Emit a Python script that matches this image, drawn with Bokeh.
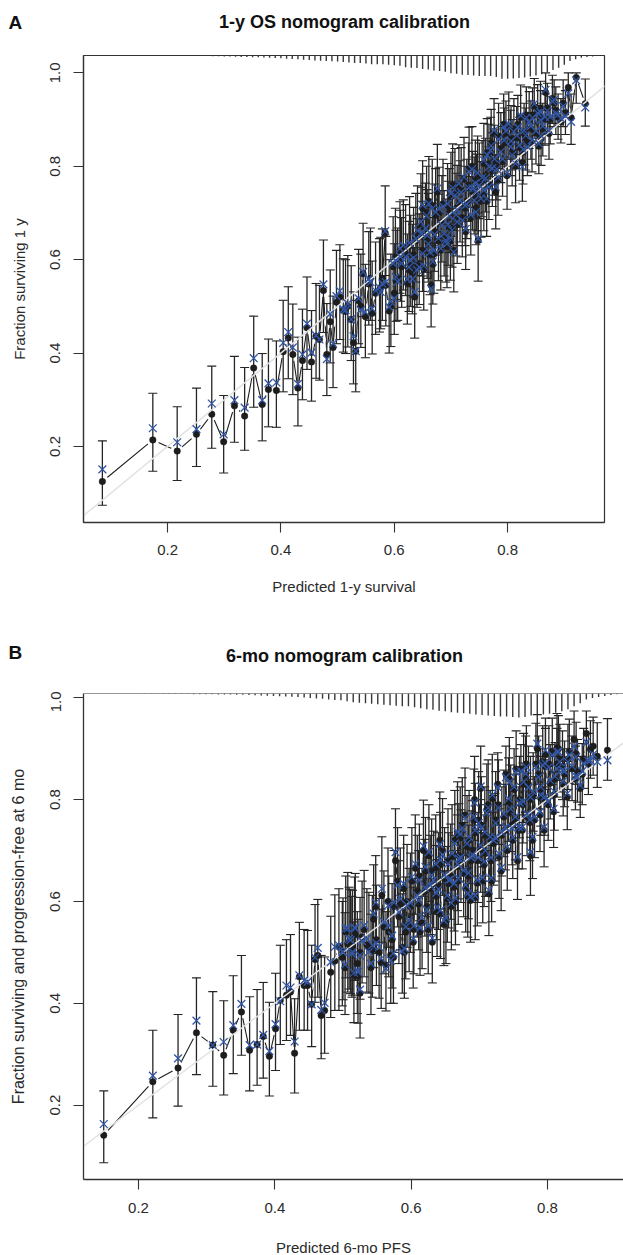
import numpy as np
from bokeh.core.properties import value
from bokeh.embed import file_html
from bokeh.layouts import column
from bokeh.models import ColumnDataSource, FixedTicker, NumeralTickFormatter, Range1d, Span
from bokeh.plotting import figure
from bokeh.resources import INLINE

# ---- Panel A: predicted, observed, CI lower, CI upper, bias-corrected ----
a_x = [.085,.174,.217,.251,.278,.299,.318,.336,.352,.367,.378,.392,.404,.413,.421,.430,.438,.446,.454,.462,
       .468,.475,.481,.487,.492,.498,.504,.510,.514,.518,.524,.528,.532,.537,
       .541,.545,.549,.555,.558,.561,.567,.576,.579,.584,.591,.594,.600,.603,.610,.611,.620,.626,.629,.632,
       .636,.638,.644,.647,.650,.650,.655,.658,.661,.665,.667,.670,.679,.676,.682,.688,.691,.694,.693,.700,
       .702,.705,.711,.711,.714,.720,.723,.726,.732,.738,.741,.744,.748,.750,.758,.758,.767,.767,.770,.776,
       .779,.788,.794,.802,.805,.814,.823,.826,.829,.832,.835,.847,.855,.858,.858,.867,.882,.885,.894,.907,
       .912,.921,.937,
       .574,.585,.598,.606,.616,.623,.634,.641,.652,.660,.668,.673,.684,.697,.699,.707,.716,.728,.735,.743,
       .747,.753,.761,.764,.773,.781,.784,.791,.797,.808,.811,.818,.821,.838,.841,.844,.850,.862,.870,.875,
       .879,.889,.898,.902]
a_obs = [.125,.214,.190,.226,.269,.210,.287,.265,.368,.290,.322,.320,.403,.432,.397,.325,.384,.454,.381,.436,
         .429,.534,.397,.467,.412,.509,.520,.492,.489,.500,.472,.422,.404,.512,
         .500,.570,.478,.548,.560,.485,.528,.540,.560,.657,.490,.502,.528,.555,.618,.600,.612,.578,.590,.572,
         .520,.640,.592,.672,.620,.710,.660,.645,.725,.545,.716,.612,.700,.745,.620,.650,.635,.712,.628,.735,
         .668,.620,.712,.675,.758,.690,.772,.660,.794,.745,.735,.710,.641,.765,.806,.740,.805,.762,.828,.870,
         .745,.838,.850,.885,.848,.800,.905,.808,.870,.860,.850,.928,.843,.925,.905,.958,.935,.920,.895,.969,
         .904,.990,.934,
         .535,.545,.585,.560,.625,.550,.610,.655,.580,.640,.590,.695,.680,.700,.640,.745,.720,.725,.690,.770,
         .780,.725,.780,.830,.790,.800,.865,.810,.870,.830,.880,.890,.840,.900,.880,.910,.870,.880,.925,.900,
         .945,.905,.935,.915]
a_lo = [.074,.147,.127,.157,.196,.143,.209,.192,.284,.212,.242,.241,.317,.345,.311,.244,.300,.365,.297,.346,
        .342,.444,.309,.379,.326,.420,.429,.402,.399,.413,.384,.334,.317,.420,
        .412,.478,.390,.460,.470,.398,.440,.452,.470,.566,.400,.414,.440,.468,.528,.511,.523,.489,.500,.484,
        .432,.552,.504,.586,.532,.622,.573,.560,.636,.456,.630,.528,.616,.660,.535,.565,.552,.628,.540,.650,
        .584,.531,.630,.592,.676,.606,.692,.579,.712,.664,.655,.632,.554,.688,.730,.662,.728,.686,.752,.796,
        .666,.765,.778,.815,.780,.722,.840,.725,.803,.792,.780,.865,.784,.868,.848,.905,.885,.868,.850,.905,
        .847,.935,.886,
        .445,.458,.495,.470,.535,.462,.520,.566,.492,.552,.505,.610,.595,.615,.556,.662,.638,.645,.610,.690,
        .700,.648,.702,.755,.714,.728,.795,.736,.800,.758,.815,.825,.770,.838,.815,.848,.805,.822,.870,.848,
        .892,.858,.885,.868]
a_up = [.212,.314,.285,.325,.372,.309,.393,.369,.479,.399,.430,.426,.513,.542,.505,.434,.494,.563,.491,.549,
        .545,.642,.506,.578,.522,.620,.632,.602,.600,.609,.587,.531,.513,.622,
        .612,.678,.590,.660,.668,.597,.638,.648,.666,.758,.600,.612,.634,.663,.724,.706,.718,.682,.695,.676,
        .626,.742,.698,.784,.725,.812,.764,.750,.821,.634,.815,.712,.798,.847,.720,.748,.730,.806,.724,.830,
        .762,.710,.802,.768,.846,.780,.862,.748,.884,.832,.820,.792,.738,.850,.892,.825,.890,.842,.905,.945,
        .825,.915,.925,.959,.920,.872,.974,.880,.935,.925,.915,.988,.905,.982,.962,1.0,.985,.970,.945,1.0,
        .955,1.0,.987,
        .645,.650,.692,.668,.728,.655,.712,.758,.686,.742,.690,.795,.780,.795,.738,.838,.812,.815,.778,.856,
        .865,.810,.860,.902,.872,.880,.935,.885,.940,.900,.945,.952,.905,.960,.940,.968,.930,.935,.978,.950,
        .995,.955,.985,.962]
a_cor = [.151,.239,.209,.237,.292,.226,.299,.283,.389,.299,.335,.337,.422,.445,.412,.334,.397,.463,.401,.438,
         .429,.547,.387,.484,.420,.522,.533,.493,.492,.506,.472,.436,.404,.517,
         .492,.574,.488,.559,.552,.495,.534,.531,.549,.661,.499,.510,.517,.563,.624,.606,.606,.584,.599,.559,
         .531,.645,.584,.681,.613,.717,.667,.652,.720,.538,.709,.620,.709,.752,.624,.656,.641,.720,.634,.742,
         .663,.616,.706,.681,.763,.684,.777,.666,.788,.752,.727,.702,.645,.759,.813,.749,.799,.756,.834,.877,
         .756,.831,.856,.891,.842,.806,.909,.799,.877,.866,.842,.934,.849,.916,.899,.964,.942,.913,.902,.956,
         .895,.984,.926,
         .540,.552,.592,.553,.630,.558,.604,.662,.587,.634,.596,.702,.674,.694,.647,.738,.726,.719,.696,.764,
         .786,.731,.774,.824,.796,.794,.858,.816,.876,.824,.874,.884,.846,.894,.886,.904,.876,.886,.919,.906,
         .939,.911,.929,.908]
a_x2 = [.602,.613,.627,.640,.649,.657,.663,.671,.678,.686,.695,.703,.709,.718,.725,.731,.737,.745,.755,.763,
        .771,.777,.783,.793,.799,.806,.816,.827,.833,.843,.853,.859,.866,.873]
a_obs2 = [.605,.585,.630,.585,.650,.700,.610,.660,.640,.720,.670,.760,.690,.750,.710,.760,.800,.740,.770,.725,
          .850,.810,.770,.890,.780,.860,.860,.830,.910,.850,.920,.860,.900,.870]
a_lo2 = [.515,.498,.542,.498,.565,.614,.525,.575,.555,.636,.588,.678,.608,.670,.630,.682,.722,.662,.692,.650,
         .778,.738,.695,.820,.708,.792,.795,.762,.848,.788,.860,.802,.845,.815]
a_up2 = [.710,.690,.735,.688,.755,.800,.712,.762,.740,.815,.768,.848,.785,.840,.800,.850,.885,.826,.855,.808,
         .922,.888,.850,.955,.858,.930,.928,.900,.970,.915,.975,.920,.955,.925]
a_cor2 = [.598,.592,.636,.578,.656,.694,.616,.654,.646,.714,.676,.754,.696,.744,.716,.754,.794,.746,.776,.731,
          .844,.816,.776,.884,.786,.854,.866,.836,.904,.856,.914,.866,.906,.876]
a_rug_x = [.20,.21,.22,.23,.24,.25,.26,.27,.28,.29,.30,.31,.32,.33,.34,.35,.36,.37,.38,.39,
           .40,.41,.42,.43,.44,.45,.46,.47,.48,.49,.50,.51,.52,.53,.54,.55,.56,.57,.58,.59,
           .60,.61,.62,.63,.64,.65,.66,.67,.68,.69,.70,.71,.72,.73,.74,.75,.76,.77,.78,.79,
           .80,.81,.82,.83,.84,.85,.86,.87,.88,.89,.90,.91,.92,.93,.94,.95,.96,.97]
a_rug_d = [.0003,.0003,.0005,.0005,.0007,.001,.001,.0012,.0015,.0015,.002,.002,.0025,.003,.003,.0035,.004,.0045,.005,.0055,
           .006,.007,.0075,.008,.009,.0095,.0105,.011,.012,.0125,.013,.014,.015,.016,.016,.017,.0185,.019,.019,.02,
           .021,.022,.025,.026,.027,.029,.03,.032,.033,.035,.038,.039,.041,.042,.043,.044,.044,.044,.046,.05,
           .05,.049,.048,.047,.045,.043,.04,.036,.031,.026,.02,.012,.008,.005,.003,.002,.001,.0005]

# ---- Panel B ----
b_x = [.149,.221,.258,.285,.309,.325,.339,.351,.363,.374,.383,.392,.401,.408,.417,.423,.429,.436,.443,.448,
       .454,.459,.463,.468,.473,.482,.488,.494,.500,.507,.511,.514,.517,.522,.525,
       .499,.504,.509,.513,.518,.521,.525,.531,.535,.538,.543,.545,.553,.557,.560,.567,.570,.572,.577,.582,
       .584,.589,.592,.597,.601,.606,.611,.616,.618,.621,.626,.628,.633,.636,.638,.643,.643,.648,.653,.655,
       .660,.663,.668,.668,.672,.677,.680,.682,.685,.687,.692,.694,.694,.697,.702,.702,.707,.709,.714,.716,
       .719,.721,.729,.736,.743,.746,.751,.753,.756,.763,.765,.768,.770,.775,.775,.778,.785,.790,.790,.795,
       .797,.797,.804,.809,.814,.814,.822,.829,.839,.844,.848,.853,.857,.863,.873,.888,
       .503,.516,.528,.541,.549,.563,.575,.587,.594,.603,.609,.613,.623,.631,.640,.646,.651,.658,.665,.670,
       .675,.684,.690,.699,.705,.711,.717,.724,.727,.733,.739,.741,.748,.759,.761,.772,.781,.787,.793,.801,
       .807,.811,.818,.825,.832,.836,.842,.851,.860,.867]
b_obs = [.141,.246,.273,.342,.318,.298,.347,.383,.308,.319,.335,.296,.350,.406,.416,.422,.302,.452,.435,.435,
         .398,.486,.494,.376,.386,.461,.483,.511,.501,.517,.514,.511,.542,.453,.420,
         .490,.540,.520,.505,.535,.478,.500,.545,.515,.510,.505,.565,.500,.612,.550,.540,.495,.525,.680,.570,
         .595,.625,.540,.555,.640,.665,.595,.558,.700,.660,.690,.625,.635,.666,.580,.672,.575,.555,.605,.635,
         .688,.628,.730,.668,.725,.655,.626,.708,.720,.602,.760,.735,.608,.636,.822,.703,.672,.694,.615,.722,
         .802,.714,.688,.766,.795,.776,.820,.760,.680,.740,.830,.845,.766,.800,.690,.720,.900,.820,.803,.740,
         .888,.865,.832,.776,.902,.870,.865,.805,.918,.855,.822,.880,.930,.899,.885,.897,
         .470,.455,.530,.470,.525,.475,.590,.510,.600,.520,.620,.540,.590,.520,.630,.700,.560,.650,.600,.690,
         .750,.650,.700,.760,.640,.780,.680,.760,.830,.730,.850,.700,.750,.800,.860,.830,.760,.850,.875,.790,
         .895,.840,.880,.850,.895,.860,.890,.850,.870,.905]
b_lo = [.087,.175,.198,.260,.237,.220,.262,.298,.228,.239,.253,.218,.268,.319,.327,.337,.224,.347,.347,.347,
        .315,.402,.412,.291,.302,.372,.386,.386,.407,.422,.419,.416,.445,.361,.332,
        .395,.450,.428,.412,.445,.380,.408,.452,.422,.420,.412,.470,.410,.520,.458,.452,.400,.430,.590,.478,
        .505,.535,.448,.462,.552,.575,.505,.468,.610,.570,.600,.535,.548,.578,.492,.585,.488,.474,.520,.548,
        .602,.542,.645,.582,.640,.570,.540,.622,.635,.520,.678,.650,.525,.552,.740,.618,.590,.610,.533,.640,
        .722,.632,.606,.688,.718,.698,.745,.682,.604,.664,.755,.775,.690,.726,.612,.645,.830,.748,.730,.668,
        .820,.795,.762,.706,.838,.805,.800,.741,.858,.795,.765,.822,.875,.842,.824,.838,
        .378,.362,.440,.378,.435,.385,.500,.420,.510,.430,.530,.455,.500,.440,.545,.612,.478,.565,.515,.605,
        .665,.566,.618,.678,.558,.700,.600,.680,.750,.650,.772,.622,.672,.725,.788,.758,.686,.782,.808,.720,
        .830,.775,.815,.786,.832,.798,.830,.790,.810,.848]
b_up = [.228,.347,.378,.450,.423,.405,.454,.494,.413,.427,.441,.402,.459,.514,.525,.535,.409,.559,.545,.543,
        .514,.594,.604,.494,.491,.571,.613,.625,.607,.657,.624,.622,.648,.565,.530,
        .600,.650,.628,.610,.655,.580,.608,.661,.625,.618,.612,.672,.606,.727,.660,.650,.600,.635,.782,.680,
        .705,.730,.648,.665,.745,.770,.700,.665,.799,.765,.790,.730,.738,.770,.682,.775,.678,.660,.708,.735,
        .790,.730,.835,.770,.825,.755,.725,.808,.818,.705,.860,.832,.705,.735,.905,.800,.770,.790,.710,.818,
        .889,.808,.782,.858,.882,.868,.900,.850,.770,.830,.930,.925,.852,.885,.775,.808,.967,.900,.885,.825,
        .960,.940,.908,.855,.969,.940,.935,.875,.974,.918,.885,.940,.974,.955,.951,.959,
        .578,.560,.640,.575,.632,.580,.700,.615,.712,.628,.730,.640,.698,.625,.735,.802,.660,.752,.700,.792,
        .843,.750,.798,.855,.735,.870,.775,.855,.892,.825,.905,.790,.840,.885,.908,.905,.845,.925,.945,.865,
        .960,.912,.948,.915,.958,.925,.952,.910,.930,.962]
b_cor = [.163,.258,.292,.366,.318,.324,.357,.399,.318,.319,.338,.306,.359,.404,.435,.431,.325,.455,.445,.442,
         .398,.490,.509,.387,.401,.481,.511,.514,.501,.547,.524,.501,.549,.461,.427,
         .501,.547,.527,.497,.547,.465,.494,.553,.527,.501,.514,.576,.511,.625,.560,.553,.484,.533,.697,.579,
         .605,.635,.550,.563,.648,.674,.602,.569,.709,.668,.697,.632,.642,.674,.589,.681,.583,.563,.612,.642,
         .694,.635,.736,.674,.733,.661,.632,.714,.727,.609,.766,.740,.612,.642,.826,.710,.678,.700,.622,.727,
         .809,.720,.694,.772,.802,.782,.825,.766,.687,.746,.835,.851,.772,.805,.697,.727,.910,.825,.809,.746,
         .897,.871,.838,.782,.894,.861,.858,.812,.904,.845,.828,.871,.913,.877,.874,.877,
         .476,.460,.522,.478,.518,.468,.598,.502,.592,.527,.612,.548,.584,.528,.624,.692,.568,.644,.607,.684,
         .744,.656,.692,.754,.647,.774,.686,.754,.824,.736,.844,.707,.744,.794,.856,.824,.766,.844,.868,.796,
         .888,.846,.874,.856,.888,.866,.884,.856,.876,.889]
b_x2 = [.548,.556,.566,.574,.580,.590,.599,.604,.612,.620,.625,.630,.637,.642,.649,.654,.659,.664,.669,.673,
        .679,.683,.688,.693,.698,.703,.708,.713,.718,.723,.728,.732,.738,.744,.749,.754,.758,.764,.769,.774,
        .779,.783,.789,.796,.802,.810,.816,.823,.830,.841]
b_obs2 = [.590,.480,.600,.490,.640,.500,.590,.545,.650,.620,.545,.660,.610,.720,.645,.680,.590,.720,.640,.680,
          .770,.610,.680,.800,.680,.750,.730,.790,.640,.720,.790,.660,.740,.840,.720,.860,.740,.790,.870,.755,
          .810,.870,.770,.800,.870,.810,.900,.830,.880,.840]
b_lo2 = [.498,.390,.510,.400,.550,.410,.500,.458,.562,.532,.458,.575,.525,.635,.558,.595,.505,.635,.555,.598,
         .690,.530,.598,.720,.598,.668,.650,.710,.560,.640,.712,.582,.662,.768,.645,.788,.664,.715,.800,.680,
         .738,.802,.698,.730,.802,.740,.838,.768,.820,.780]
b_up2 = [.690,.585,.705,.592,.745,.602,.695,.645,.752,.722,.645,.762,.710,.815,.745,.782,.690,.818,.738,.780,
         .862,.705,.778,.885,.775,.845,.825,.878,.732,.812,.878,.750,.830,.922,.808,.935,.825,.872,.945,.840,
         .892,.950,.852,.878,.945,.885,.965,.900,.948,.905]
b_cor2 = [.598,.488,.592,.498,.632,.508,.597,.552,.642,.627,.552,.652,.617,.712,.652,.674,.597,.714,.646,.686,
          .764,.616,.686,.794,.686,.744,.736,.784,.646,.726,.784,.666,.746,.834,.726,.854,.746,.796,.864,.761,
          .816,.864,.776,.806,.864,.816,.894,.836,.874,.846]
b_rug_x = [.200,.209,.218,.227,.236,.245,.254,.263,.272,.281,.290,.299,.308,.317,.326,.335,.344,.353,.362,.371,
           .380,.389,.398,.407,.416,.425,.434,.443,.452,.461,.470,.479,.488,.497,.506,.515,.524,.533,.542,.551,
           .560,.569,.578,.587,.596,.605,.614,.623,.632,.641,.650,.659,.668,.677,.686,.695,.704,.713,.722,.731,
           .740,.749,.758,.767,.776,.785,.794,.803,.812,.821,.830,.839,.848,.857,.866,.875,.884,.893,.902,.911]
b_rug_d = [.0004,.0005,.0006,.0007,.0008,.0009,.001,.0011,.0012,.0013,.0014,.0015,.0017,.0018,.002,.0021,.0024,.0027,.003,.0034,
           .004,.0045,.005,.0055,.006,.0065,.007,.008,.009,.01,.0105,.012,.013,.0135,.015,.017,.018,.019,.020,.021,
           .022,.023,.024,.025,.025,.027,.029,.031,.032,.034,.035,.037,.038,.039,.040,.041,.042,.043,.044,.045,
           .045,.046,.047,.046,.043,.042,.041,.040,.038,.035,.031,.025,.019,.012,.009,.007,.005,.003,.0013,.0006]

titles = ["1-y OS nomogram calibration", "6-mo nomogram calibration"]
x_labels = ["Predicted 1-y survival", "Predicted 6-mo PFS"]
y_labels = ["Fraction surviving 1 y", "Fraction surviving and progression-free at 6 mo"]
x_ticks = [0.2, 0.4, 0.6, 0.8]
y_ticks = [0.2, 0.4, 0.6, 0.8, 1.0]
diag = [0, 1]

FONT = "Liberation Sans"
DARK = "#1d1d1d"
BLUE = "#3156a6"
LINE = "#333333"
TEXT = "#2a2a2a"


def text_strip(height, items):
    """A strip of page-wide text, laid out in pixels from its own top left corner."""
    s = figure(frame_width=623, frame_height=height, min_border=0, x_range=Range1d(0, 623),
               y_range=Range1d(height, 0), output_backend="svg", toolbar_location=None)
    s.axis.visible = False
    s.grid.visible = False
    s.outline_line_color = None
    for txt, x, y, size, style, align, color in items:
        s.text(x=[x], y=[y], text=[txt], text_font=value(FONT), text_font_size=value(size),
               text_font_style=style, text_align=align, text_baseline="middle", text_color=color)
    return column(s, spacing=0)


def panel(xlab, ylab, xs, obs, lo, up, cor, rug_x, rug_d, xr, yr, frame, borders, boxed, stand, ylab_size):
    left, right, top, bottom = borders
    p = figure(frame_width=frame[0], frame_height=frame[1], min_border_left=left, min_border_right=right,
               min_border_top=top, min_border_bottom=bottom, x_range=Range1d(*xr), y_range=Range1d(*yr),
               output_backend="svg", toolbar_location=None)
    p.grid.visible = False
    p.outline_line_color = LINE if boxed else None
    p.outline_line_width = 1.2
    for ax in (p.xaxis[0], p.yaxis[0]):
        ax.major_tick_in = 0
        ax.major_tick_out = 10
        ax.minor_tick_line_color = None
        ax.axis_line_color = LINE
        ax.axis_line_width = 1.3
        ax.major_tick_line_color = LINE
        ax.major_tick_line_width = 1.1
        ax.major_label_text_font = FONT
        ax.major_label_text_font_size = "15px"
        ax.major_label_text_color = TEXT
        ax.axis_label_text_font = FONT
        ax.axis_label_text_font_size = "15px"
        ax.axis_label_text_font_style = "normal"
        ax.axis_label_text_color = TEXT
        ax.formatter = NumeralTickFormatter(format="0.0")
    p.xaxis[0].ticker = FixedTicker(ticks=x_ticks)
    p.yaxis[0].ticker = FixedTicker(ticks=y_ticks)
    p.yaxis[0].major_label_orientation = "vertical"
    p.yaxis[0].axis_label_text_font_size = ylab_size
    if xlab:
        p.xaxis[0].axis_label = xlab
    p.yaxis[0].axis_label = ylab
    p.xaxis[0].major_label_standoff = stand[0]
    p.yaxis[0].major_label_standoff = stand[2]
    p.xaxis[0].axis_label_standoff = stand[1]
    p.yaxis[0].axis_label_standoff = stand[3]
    if not boxed:
        p.add_layout(Span(location=yr[1], dimension="width", line_color=LINE, line_width=1.2))

    order = np.argsort(xs)
    src = ColumnDataSource(dict(x=np.array(xs)[order], obs=np.array(obs)[order], lo=np.array(lo)[order],
                                up=np.array(up)[order], cor=np.array(cor)[order]))
    top_y = yr[1]
    p.segment(x0=rug_x, y0=[top_y] * len(rug_x), x1=rug_x, y1=[top_y - d for d in rug_d],
              line_color="#383838", line_width=1.4)
    p.line("x", "obs", source=src, line_color=DARK, line_width=1.1)
    p.scatter("x", "obs", source=src, size=13, fill_color="white", line_color=None)
    p.segment("x", "lo", "x", "up", source=src, line_color="#252525", line_width=1.3)
    p.scatter("x", "lo", source=src, marker="dash", size=9, line_color="#252525", line_width=1.1, fill_color=None)
    p.scatter("x", "up", source=src, marker="dash", size=9, line_color="#252525", line_width=1.1, fill_color=None)
    p.scatter("x", "obs", source=src, size=6.5, fill_color=DARK, line_color=DARK, line_width=0.5)
    p.line(diag, diag, line_color="#e2e2e2", line_width=1.5)
    p.scatter("x", "cor", source=src, marker="x", size=11, line_color=BLUE, line_width=1.3, fill_color=None)
    return column(p, spacing=0)


head_a = text_strip(53, [("A", 8, 22, "19px", "bold", "left", "#111111"),
                         (titles[0], 344, 21, "18px", "bold", "center", "#111111")])
p1 = panel(x_labels[0], y_labels[0], a_x + a_x2, a_obs + a_obs2, a_lo + a_lo2, a_up + a_up2, a_cor + a_cor2,
           a_rug_x, a_rug_d, (0.0517, 0.9709), (0.0371, 1.0373), (521, 467), (83, 19, 2, 96),
           True, (12, 20, 13, 20), "15px")
head_b = text_strip(73, [("B", 8, 34, "19px", "bold", "left", "#111111"),
                         (titles[1], 344, 37, "18px", "bold", "center", "#111111")])
p2 = panel(None, y_labels[1], b_x + b_x2, b_obs + b_obs2, b_lo + b_lo2, b_up + b_up2, b_cor + b_cor2,
           b_rug_x, b_rug_d, (0.1193, 0.9115), (0.054, 1.0084), (540, 486), (83, 0, 2, 48),
           False, (13, 20, 13, 21), "16px")
foot_b = text_strip(28, [(x_labels[1], 343, 20, "15px", "normal", "center", TEXT)])

page = column(head_a, p1, head_b, p2, foot_b, spacing=0)
open("out.html", "w").write(file_html(page, INLINE))
